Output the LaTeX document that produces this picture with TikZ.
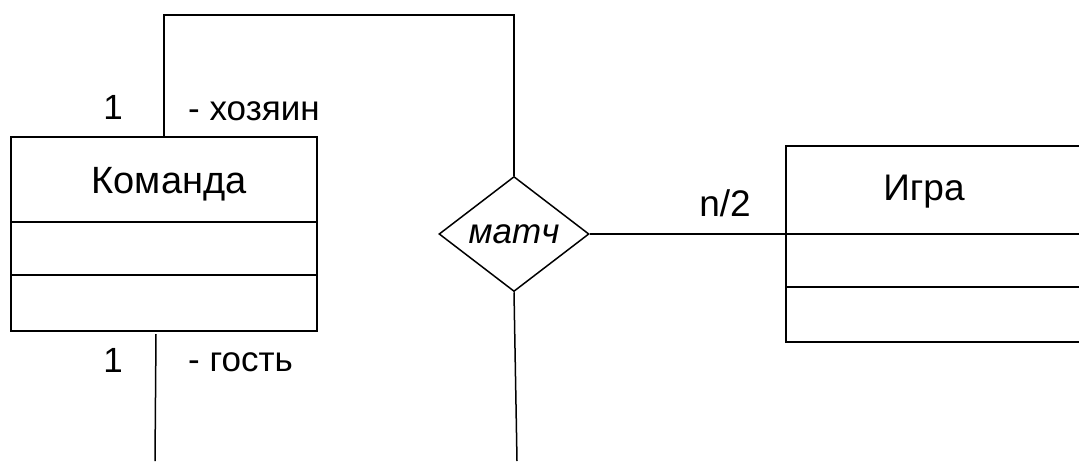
\documentclass[tikz,border=0pt]{standalone}
\usepackage{fontspec}
\setmainfont{Liberation Sans}
\usetikzlibrary{shapes.geometric}
\begin{document}
\begin{tikzpicture}[x=1pt,y=-1pt,
  ln/.style={line width=1.5pt,black},
  boxln/.style={line width=1.8pt,black},
  lbl/.style={inner sep=0pt,font=\fontsize{35}{40}\selectfont},
  title/.style={inner sep=0pt,font=\fontsize{38}{44}\selectfont},
  rel/.style={diamond,draw,line width=1.5pt,inner sep=0pt,minimum width=150pt,minimum height=115pt,aspect=1.3,font=\itshape\fontsize{35}{40}\selectfont}
]
\useasboundingbox (0,0) rectangle (1079,461);
% Команда class box
\node[boxln,draw,minimum width=306pt,minimum height=194pt,inner sep=0pt] (kom) at (164,234) {};
\draw[boxln] (kom.west |- 0,222) -- (kom.east |- 0,222);
\draw[boxln] (kom.west |- 0,275) -- (kom.east |- 0,275);
\node[title] (komt) at (169,184) {Команда};
% Игра class box (open to the right)
\node[minimum width=300pt,minimum height=195pt,inner sep=0pt] (igra) at (936,244) {};
\draw[boxln] (igra.north east) -- (igra.north west) -- (igra.south west) -- (igra.south east);
\draw[boxln] (igra.west |- 0,234) -- (igra.east |- 0,234);
\draw[boxln] (igra.west |- 0,287) -- (igra.east |- 0,287);
\node[title,font=\fontsize{37}{42}\selectfont] (igrat) at (924,192) {Игра};
% relationship diamond
\node[rel] (m) at (514,234) {матч};
% connectors
\coordinate (tl) at (164,15);
\coordinate (tr) at (514,15);
\draw[ln] (kom.north) -- (tl) -- (tr) -- (m.north);
\draw[ln] (m.east) -- (igra.west |- m.east);
\coordinate (mb) at (517,461);
\draw[ln] (m.south) -- (mb);
\coordinate (gb) at (155,461);
\coordinate (gt) at (156,334);
\draw[ln] (gt) -- (gb);
% labels
\node[lbl] (one1) at (113,107) {1};
\node[lbl,anchor=west] (host) at (188,111) {- хозяин};
\node[lbl] (one2) at (113,360) {1};
\node[lbl,anchor=west] (guest) at (188,362) {- гость};
\node[lbl,font=\fontsize{37}{42}\selectfont] (n2) at (725,203) {n/2};
\end{tikzpicture}
\end{document}
